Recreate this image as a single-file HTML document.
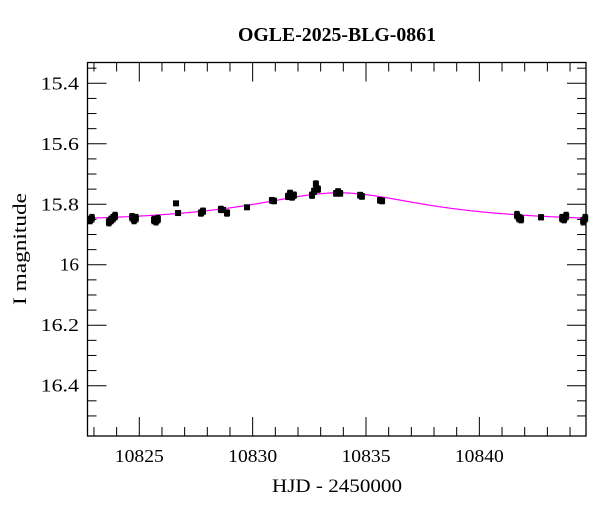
<!DOCTYPE html>
<html><head><meta charset="utf-8"><style>
body{margin:0;background:#fff}
svg{display:block;font-family:"Liberation Serif",serif}
</style></head><body>
<svg id="chart" width="600" height="512" viewBox="0 0 600 512" xmlns="http://www.w3.org/2000/svg">
<text x="337" y="41" text-anchor="middle" font-size="20" font-weight="bold" textLength="198" lengthAdjust="spacingAndGlyphs">OGLE-2025-BLG-0861</text>
<text x="337" y="492" text-anchor="middle" font-size="19" textLength="130" lengthAdjust="spacingAndGlyphs">HJD - 2450000</text>
<text transform="translate(26,249) rotate(-90)" text-anchor="middle" font-size="19" textLength="112" lengthAdjust="spacingAndGlyphs">I magnitude</text>
<g id="axes"></g><g id="model"></g><g id="points"></g>
<rect x="87.5" y="62.5" width="498.5" height="373.5" fill="none" stroke="#000" stroke-width="1.3"/>
</svg>
<script>
const hjd=[10822.83,10822.91,10823.66,10823.75,10823.84,10823.93,10824.68,10824.77,10824.85,10825.65,10825.74,10825.82,10826.62,10826.71,10827.72,10827.81,10828.60,10828.69,10828.87,10829.75,10830.85,10830.94,10831.56,10831.65,10831.74,10831.82,10832.62,10832.71,10832.79,10832.88,10833.68,10833.77,10833.86,10834.74,10834.82,10835.62,10835.71,10841.66,10841.75,10841.84,10842.72,10843.65,10843.74,10843.83,10844.58,10844.67];
const mag=[15.852,15.846,15.859,15.852,15.846,15.839,15.843,15.852,15.846,15.852,15.856,15.849,15.797,15.829,15.829,15.823,15.817,15.819,15.829,15.810,15.787,15.789,15.774,15.764,15.776,15.770,15.770,15.757,15.733,15.750,15.764,15.758,15.764,15.770,15.774,15.787,15.789,15.836,15.846,15.849,15.843,15.846,15.849,15.839,15.856,15.846];
const err=[0.012,0.012,0.012,0.012,0.012,0.012,0.012,0.012,0.012,0.012,0.012,0.012,0.006,0.007,0.01,0.01,0.01,0.008,0.01,0.006,0.009,0.009,0.01,0.01,0.01,0.01,0.01,0.01,0.01,0.01,0.009,0.009,0.009,0.009,0.009,0.009,0.009,0.012,0.012,0.012,0.008,0.012,0.012,0.012,0.012,0.012];
const xTicks=[10825,10830,10835,10840];
const yTicks=[15.4,15.6,15.8,16,16.2,16.4];
const modelParams={t0:10833.8,u0:0.5,tE:8,fs:0.078,base:15.858};
const NS="http://www.w3.org/2000/svg";
const L=87.5,R=586,T=62.5,B=436;
const xs=v=>139.3+(v-10825)*22.67;
const ys=v=>83.3+(v-15.4)*302.4;
function mk(p,tag,a){const e=document.createElementNS(NS,tag);for(const k in a)e.setAttribute(k,a[k]);p.appendChild(e);return e;}
const ax=document.getElementById('axes');
for(let d=10823;d<=10844;d++){const x=xs(d);const maj=d%5===0;const len=maj?19:9;
 const t1=mk(ax,'line',{x1:x,y1:B,x2:x,y2:B-len,stroke:'#000','stroke-width':1});
 
 
 const t2=mk(ax,'line',{x1:x,y1:T,x2:x,y2:T+len,stroke:'#000','stroke-width':1});
 
 }
xTicks.forEach(v=>{const t=mk(ax,'text',{x:xs(v),y:462,'text-anchor':'middle','font-size':'18',textLength:'49',lengthAdjust:'spacingAndGlyphs'});t.textContent=v;
 
 });
for(let i=0;i<=23;i++){const v=15.35+i*0.05;const y=ys(v);if(y<T||y>B)continue;const maj=Math.abs((v*5)-Math.round(v*5))<1e-6;const len=maj?19:9;
 const t1=mk(ax,'line',{x1:L,y1:y,x2:L+len,y2:y,stroke:'#000','stroke-width':1});
 
 
 const t2=mk(ax,'line',{x1:R,y1:y,x2:R-len,y2:y,stroke:'#000','stroke-width':1});
 
 }
yTicks.forEach(v=>{const s=String(v);const t=mk(ax,'text',{x:79,y:ys(v)+6,'text-anchor':'end','font-size':'18',textLength:String(s.length*9.6),lengthAdjust:'spacingAndGlyphs'});t.textContent=s;
 
 });
const mp=modelParams;let pts=[];
for(let t=10822.7;t<=10844.7;t+=0.05){const tau=(t-mp.t0)/mp.tE;const u=Math.sqrt(mp.u0*mp.u0+tau*tau);const A=(u*u+2)/(u*Math.sqrt(u*u+4));const m=mp.base-2.5*Math.log10(1+mp.fs*(A-1));pts.push(xs(t).toFixed(1)+','+ys(m).toFixed(1));}
const pl=mk(document.getElementById('model'),'polyline',{points:pts.join(' '),fill:'none',stroke:'#ff00ff','stroke-width':1.2});


const pg=document.getElementById('points');
hjd.forEach((t,i)=>{const x=xs(t),y=ys(mag[i]);const y1=ys(mag[i]-err[i]),y2=ys(mag[i]+err[i]);
 const g=mk(pg,'g',{});
 
 
 mk(g,'line',{x1:x,y1:y1,x2:x,y2:y2,stroke:'#000','stroke-width':1.5});
 mk(g,'line',{x1:x-2.5,y1:y1,x2:x+2.5,y2:y1,stroke:'#000','stroke-width':1.3});
 mk(g,'line',{x1:x-2.5,y1:y2,x2:x+2.5,y2:y2,stroke:'#000','stroke-width':1.3});
 mk(g,'rect',{x:x-3,y:y-3,width:6,height:6,fill:'#000'});});
</script>
</body></html>
